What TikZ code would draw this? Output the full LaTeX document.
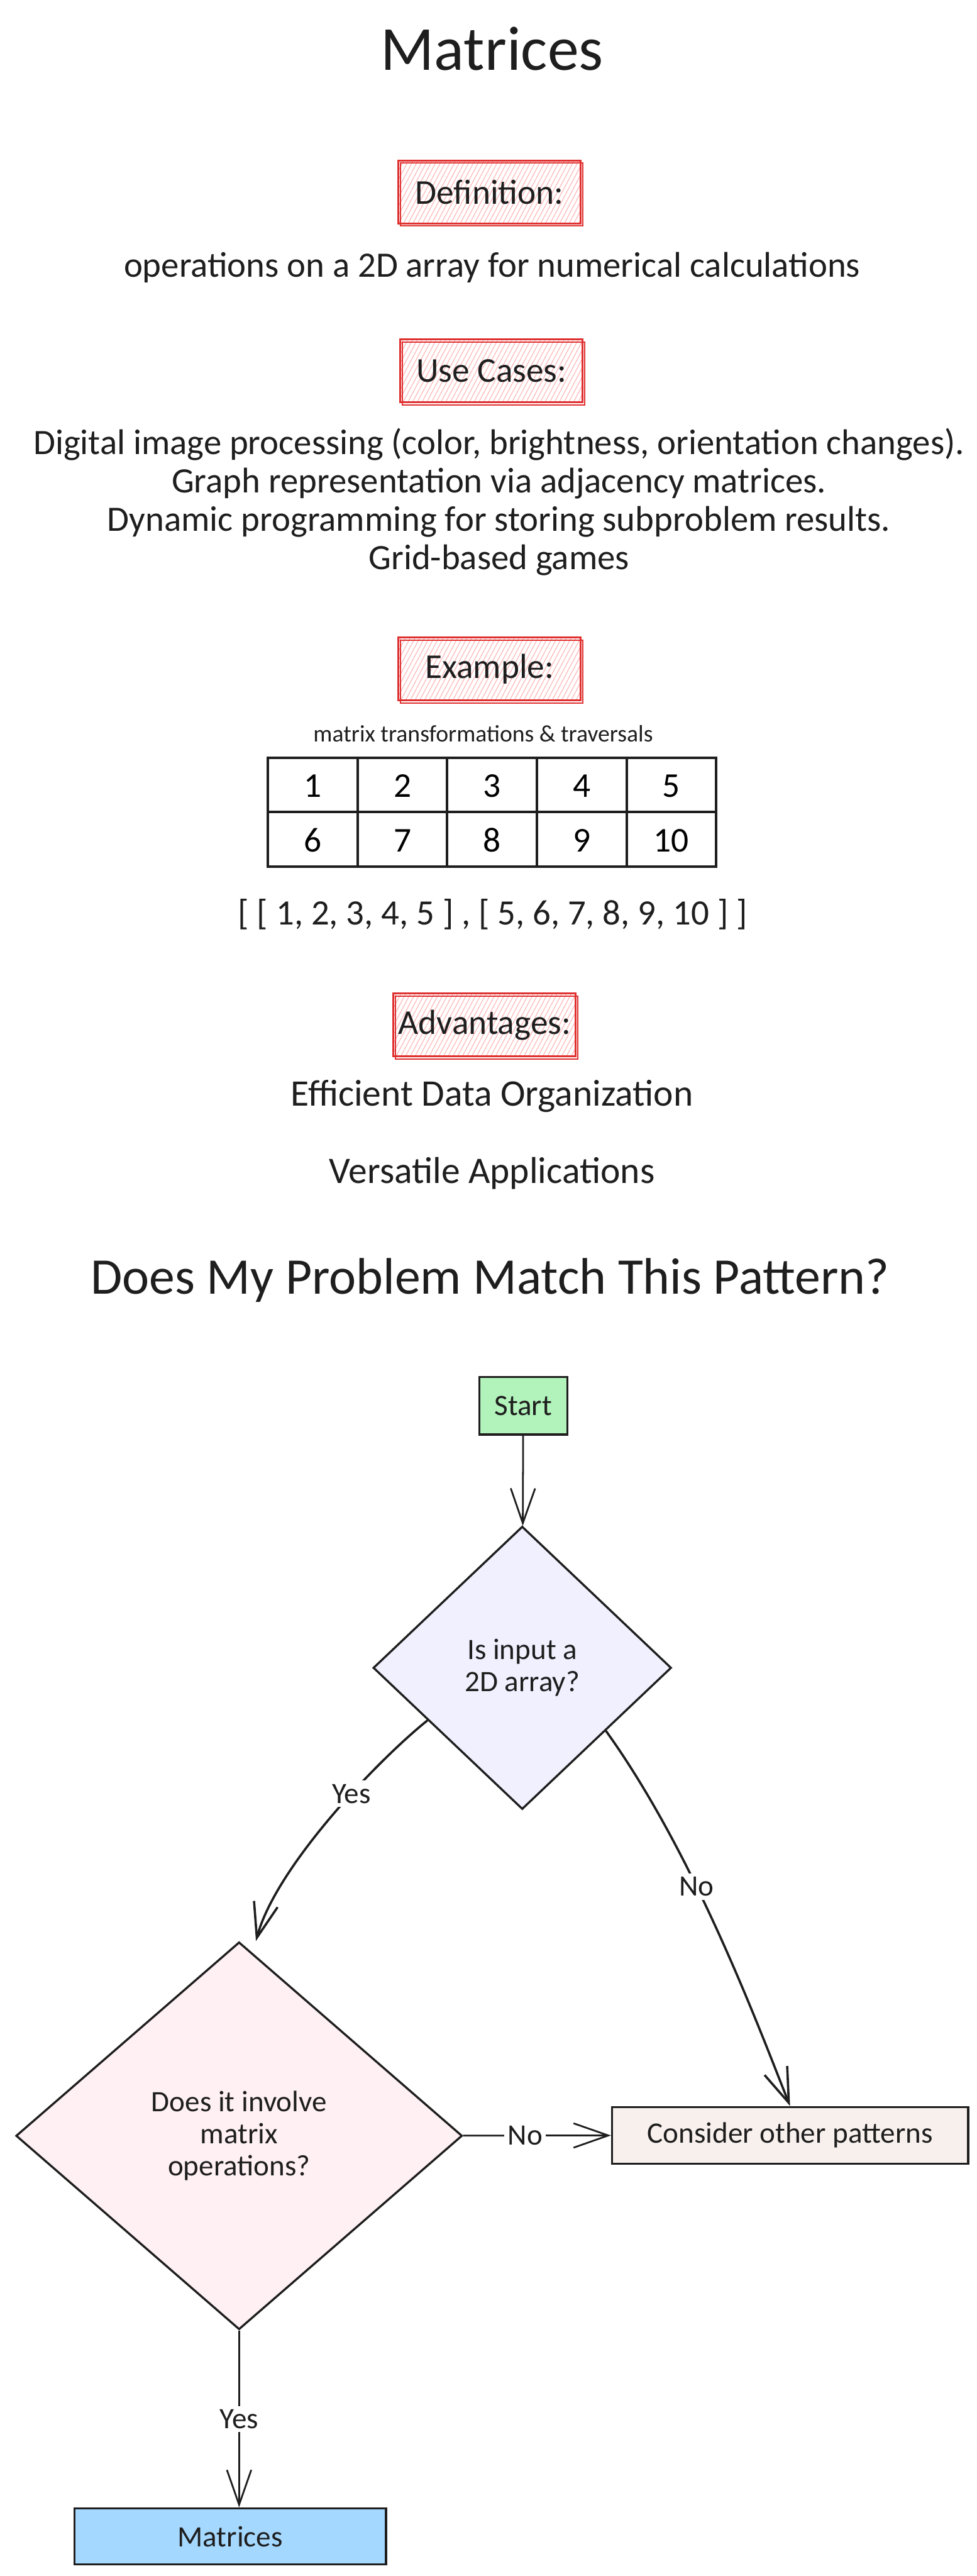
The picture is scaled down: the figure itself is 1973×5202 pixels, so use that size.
\documentclass[tikz,border=0pt]{standalone}
\usepackage{fontspec}
\setmainfont{Carlito}
\usetikzlibrary{matrix,arrows.meta,shapes.geometric,patterns.meta}
\definecolor{inkblack}{HTML}{1E1E1E}
\definecolor{hdrred}{HTML}{E03131}
\definecolor{hdrpink}{HTML}{FFB8B8}
\definecolor{startgreen}{HTML}{B2F2BB}
\definecolor{asklavender}{HTML}{F0F0FF}
\definecolor{askpink}{HTML}{FFF0F4}
\definecolor{otherbeige}{HTML}{F8F0ED}
\definecolor{foundblue}{HTML}{A5D8FF}
\tikzset{
	hdr/.style={draw=hdrred, line width=1.1pt, pattern={Lines[angle=62,distance=2.4pt,line width=0.45pt]}, pattern color=hdrpink,
		minimum width=3.68cm, minimum height=1.27cm, inner sep=1pt, font=\fontsize{20pt}{24pt}\selectfont, text=inkblack,
		postaction={draw=hdrred, line width=0.7pt, transform canvas={shift={(1.2pt,-1.4pt)}}}},
	body/.style={font=\fontsize{20.5pt}{22pt}\selectfont, text=inkblack, align=center},
	cell/.style={draw=inkblack, line width=1.4pt, anchor=center, minimum width=1.81cm, minimum height=1.10cm,
		text height=14pt, text depth=0pt, font=\fontsize{20pt}{24pt}\selectfont},
	flowbox/.style={draw=inkblack, line width=1.2pt, font=\fontsize{17pt}{20pt}\selectfont, text=inkblack},
	ask/.style={diamond, draw=inkblack, line width=1.2pt, inner sep=0pt, align=center, font=\fontsize{17pt}{18.5pt}\selectfont, text=inkblack},
	conn/.style={draw=inkblack, line width=1pt, -{Straight Barb[length=20pt,width=14pt]}},
	lbl/.style={fill=white, inner sep=2pt, font=\fontsize{17pt}{20pt}\selectfont, text=inkblack}
}
\begin{document}
\begin{tikzpicture}[x=0.01cm, y=-0.01cm]
	\useasboundingbox (0,0) rectangle (1973,5202);
	\node[font=\fontsize{36pt}{42pt}\selectfont, text=inkblack] (title) at (994,98) {Matrices};
	\node[hdr] (defhdr) at (989,388) {Definition:};
	\node[body] (deftxt) at (994,540) {operations on a 2D array for numerical calculations};
	\node[hdr] (usehdr) at (993,749) {Use Cases:};
	\node[body] (usetxt) at (1008,1014) {Digital image processing (color, brightness, orientation changes).\\
		Graph representation via adjacency matrices.\\
		Dynamic programming for storing subproblem results.\\
		Grid-based games};
	\node[hdr] (exhdr) at (989,1351) {Example:};
	\node[body, font=\fontsize{13.6pt}{16pt}\selectfont] (excap) at (976,1481) {matrix transformations \& traversals};
	\matrix (tbl) at (994,1640) [matrix of nodes, nodes={cell}, column sep=-1.4pt, row sep=-1.4pt]
	{
		1 & 2 & 3 & 4 & 5 \\
		6 & 7 & 8 & 9 & 10 \\
	};
	\node[body] (exarr) at (995,1846) {[ [ 1, 2, 3, 4, 5 ] , [ 5, 6, 7, 8, 9, 10 ] ]};
	\node[hdr] (advhdr) at (979,2070) {Advantages:};
	\node[body, font=\fontsize{21.5pt}{24pt}\selectfont] (adv1) at (994,2214) {Efficient Data Organization};
	\node[body, font=\fontsize{21.5pt}{24pt}\selectfont] (adv2) at (994,2369) {Versatile Applications};
	\node[font=\fontsize{29.5pt}{34pt}\selectfont, text=inkblack] (qtitle) at (990,2585) {Does My Problem Match This Pattern?};

	\node[flowbox, fill=startgreen, minimum width=1.78cm, minimum height=1.16cm] (start) at (1057,2839) {Start};
	\node[ask, fill=asklavender, minimum width=6.02cm, minimum height=5.71cm] (isarr) at (1055,3368) {Is input a\\2D array?};
	\node[ask, fill=askpink, minimum width=9.01cm, minimum height=7.82cm] (ismat) at (483,4313) {Does it involve\\matrix\\operations?};
	\node[flowbox, fill=otherbeige, minimum width=7.19cm, minimum height=1.14cm] (other) at (1596,4312) {Consider other patterns};
	\node[flowbox, fill=foundblue, minimum width=6.29cm, minimum height=1.13cm] (found) at (465,5122) {Matrices};

	\path[conn]
	(start) edge (isarr)
	(ismat) edge node[pos=0.42, lbl]{No} (other);
	\draw[conn, line width=1.3pt] (isarr.209) .. controls +(-100,80) and +(40,-150) .. node[pos=0.4, lbl]{Yes} ([xshift=0.34cm]ismat.north);
	\draw[conn, line width=1.3pt] (isarr.323) .. controls +(180,250) and +(-60,-150) .. node[pos=0.38, lbl]{No} (other.north);
	\draw[conn] (ismat.south) -- node[lbl]{Yes} (ismat.south |- found.north);
\end{tikzpicture}
\end{document}
